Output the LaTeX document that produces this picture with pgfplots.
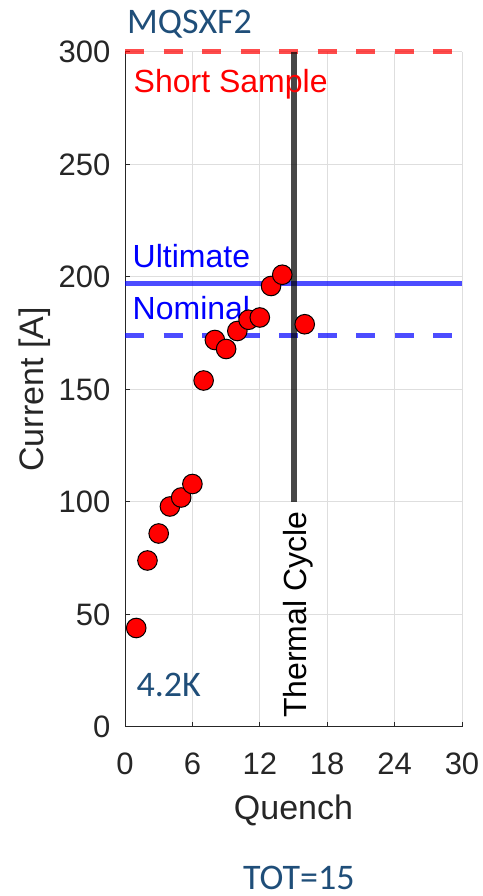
\documentclass[border=0pt]{standalone}
\usepackage{fontspec}
\setmainfont{Liberation Sans}
\newfontfamily\calfont{Carlito}
\usepackage{pgfplots}
\pgfplotsset{compat=1.18}
\definecolor{axgray}{RGB}{38,38,38}
\definecolor{annblue}{RGB}{31,78,121}
\begin{document}
\begin{tikzpicture}[x=1pt,y=1pt]
\path[use as bounding box] (0,0) rectangle (482,896);
\begin{axis}[
  at={(125pt,169pt)}, anchor=south west,
  scale only axis, width=337pt, height=675pt,
  xmin=0, xmax=30, ymin=0, ymax=300,
  xtick={0,6,...,30}, ytick={0,50,...,300},
  axis lines=left,
  axis line style={-, color=axgray, line width=1pt},
  x axis line style={-}, y axis line style={-},
  tick align=inside, tick pos=left,
  major tick length=5pt,
  tick style={color=axgray, line width=1pt},
  grid=major,
  major grid style={line width=1pt, color=black!13},
  /pgf/number format/assume math mode=true,
  ticklabel style={font=\fontsize{31}{36}\selectfont, text=axgray},
  xticklabel style={anchor=base, inner sep=0pt, yshift=-48pt},
  yticklabel style={anchor=east, inner sep=0pt, xshift=-14.5pt},
  xlabel={Quench}, ylabel={Current [A]},
  label style={font=\fontsize{34}{40}\selectfont, text=axgray},
  xlabel style={at={(axis description cs:0.5,0)}, anchor=base, inner sep=0pt, yshift=-93pt},
  ylabel style={at={(axis description cs:-0.2424,0.5)}, anchor=base, inner sep=0pt, rotate=0},
  clip=false,
]
\addplot[only marks, mark=*, mark size=9.8pt, mark options={fill=red, draw=black, line width=1pt}]
  coordinates {(1,44) (2,74) (3,86) (4,98) (5,102) (6,108) (7,154) (8,172) (9,168) (10,176) (11,181) (12,182) (13,196) (14,201) (16,179)};
\addplot[red, opacity=0.7, line width=5pt, dash pattern=on 19pt off 19.5pt] coordinates {(0,300) (30,300)};
\addplot[blue, opacity=0.7, line width=5pt] coordinates {(0,197) (30,197)};
\addplot[blue, opacity=0.7, line width=5pt, dash pattern=on 19pt off 19.5pt] coordinates {(0,174) (30,174)};
\addplot[black, opacity=0.72, line width=6pt] coordinates {(15,100) (15,300)};
\node[anchor=base west, inner sep=0pt, text=red, font=\fontsize{32}{38}\selectfont] at (axis cs:0.76,282.2) {Short Sample};
\node[anchor=base west, inner sep=0pt, text=blue, font=\fontsize{32}{38}\selectfont] at (axis cs:0.67,204.0) {Ultimate};
\node[anchor=base west, inner sep=0pt, text=blue, font=\fontsize{32}{38}\selectfont] at (axis cs:0.67,181.0) {Nominal};
\node[anchor=base west, inner sep=0pt, rotate=90, text=black, font=\fontsize{32}{38}\selectfont] at (axis cs:16.18,4.0) {Thermal Cycle};
\node[anchor=base west, inner sep=0pt, text=annblue, font=\calfont\fontsize{36}{42}\selectfont] at (axis cs:1.02,13.5) {4.2K};
\end{axis}
\node[anchor=base west, inner sep=0pt, text=annblue, font=\calfont\fontsize{36}{42}\selectfont] at (127,862) {MQSXF2};
\node[anchor=base west, inner sep=0pt, text=annblue, font=\calfont\fontsize{36}{42}\selectfont] at (243,6.7) {TOT=15};
\end{tikzpicture}
\end{document}
